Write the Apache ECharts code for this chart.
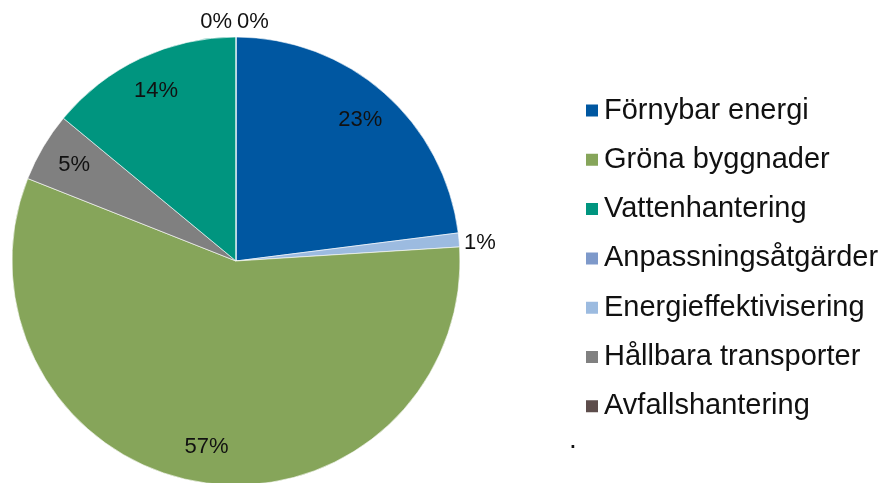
<!DOCTYPE html>
<html>
<head>
<meta charset="utf-8">
<script src="https://cdn.jsdelivr.net/npm/echarts@6/dist/echarts.min.js"></script>
<style>
  html, body { margin: 0; padding: 0; background: #fff; }
  #chart { width: 887px; height: 483px; }
</style>
</head>
<body>
<div id="chart"></div>
<script>
// slices in drawing order, clockwise from 12 o'clock (percent)
const sliceNames = ['Anpassningsåtgärder', 'Förnybar energi', 'Energieffektivisering', 'Gröna byggnader',
  'Hållbara transporter', 'Vattenhantering', 'Avfallshantering']
const sliceValues = [0, 23, 1, 57, 5, 14, 0]
// legend order as in the original
const legendNames = ['Förnybar energi', 'Gröna byggnader', 'Vattenhantering', 'Anpassningsåtgärder',
  'Energieffektivisering', 'Hållbara transporter', 'Avfallshantering']

const colorOf = {
  'Förnybar energi': '#0057A1',
  'Gröna byggnader': '#86A55A',
  'Vattenhantering': '#00957F',
  'Anpassningsåtgärder': '#7E99CA',
  'Energieffektivisering': '#9CBBE0',
  'Hållbara transporter': '#808080',
  'Avfallshantering': '#5D4D4B',
}

const font = 'Liberation Sans, Arial, sans-serif'
const center = [236, 261]
const R = 224

const chart = echarts.init(document.getElementById('chart'))

const sliceData = sliceNames.map((name, i) => ({
  name,
  value: sliceValues[i],
  itemStyle: { color: colorOf[name] },
}))

// transparent ring on top only carries the percent labels
const labelData = sliceNames.map((name, i) => {
  const v = sliceValues[i]
  return {
    name,
    value: v,
    label: { position: v < 2 ? 'outside' : 'inside' },
    labelLine: v === 0 ? { show: false, length: 15, length2: 0 } : { show: false, length: 0, length2: 0 },
  }
})

// the two empty slices sit at 12 o'clock: first one to the right, last one to the left
const lastIdx = sliceValues.length - 1
function zeroLabelLayout(params) {
  const v = sliceValues[params.dataIndex]
  if (v !== 0) return v < 2 ? { dy: 3 } : {}
  if (params.dataIndex === lastIdx) return { x: center[0] - 4, align: 'right' }
  return { x: center[0] + 1, align: 'left' }
}

chart.setOption({
  animation: false,
  backgroundColor: '#fff',
  legend: {
    data: legendNames,
    orient: 'vertical',
    left: 584,
    top: 96,
    padding: 0,
    icon: 'rect',
    itemWidth: 14,
    itemHeight: 14,
    itemGap: 20.3,
    selectedMode: false,
    textStyle: { fontFamily: font, fontSize: 29, lineHeight: 28, color: '#111' },
  },
  graphic: [{
    type: 'text', left: 569, top: 426, silent: true,
    style: { text: '.', font: '28px ' + font, fill: '#111' },
  }],
  series: [
    {
      type: 'pie',
      center,
      radius: [0, R],
      startAngle: 90,
      clockwise: true,
      silent: true,
      label: { show: false },
      labelLine: { show: false },
      itemStyle: { borderColor: '#fff', borderWidth: 0.6 },
      data: sliceData,
    },
    {
      type: 'pie',
      center,
      radius: [146, R],
      startAngle: 90,
      clockwise: true,
      silent: true,
      percentPrecision: 0,
      avoidLabelOverlap: false,
      itemStyle: { color: 'rgba(0,0,0,0)', borderWidth: 0 },
      label: {
        show: true,
        formatter: '{d}%',
        fontFamily: font,
        fontSize: 22,
        color: '#111',
        distanceToLabelLine: 5,
      },
      labelLine: { show: false },
      labelLayout: zeroLabelLayout,
      data: labelData,
    },
  ],
})

window.addEventListener('resize', () => chart.resize())
</script>
</body>
</html>
